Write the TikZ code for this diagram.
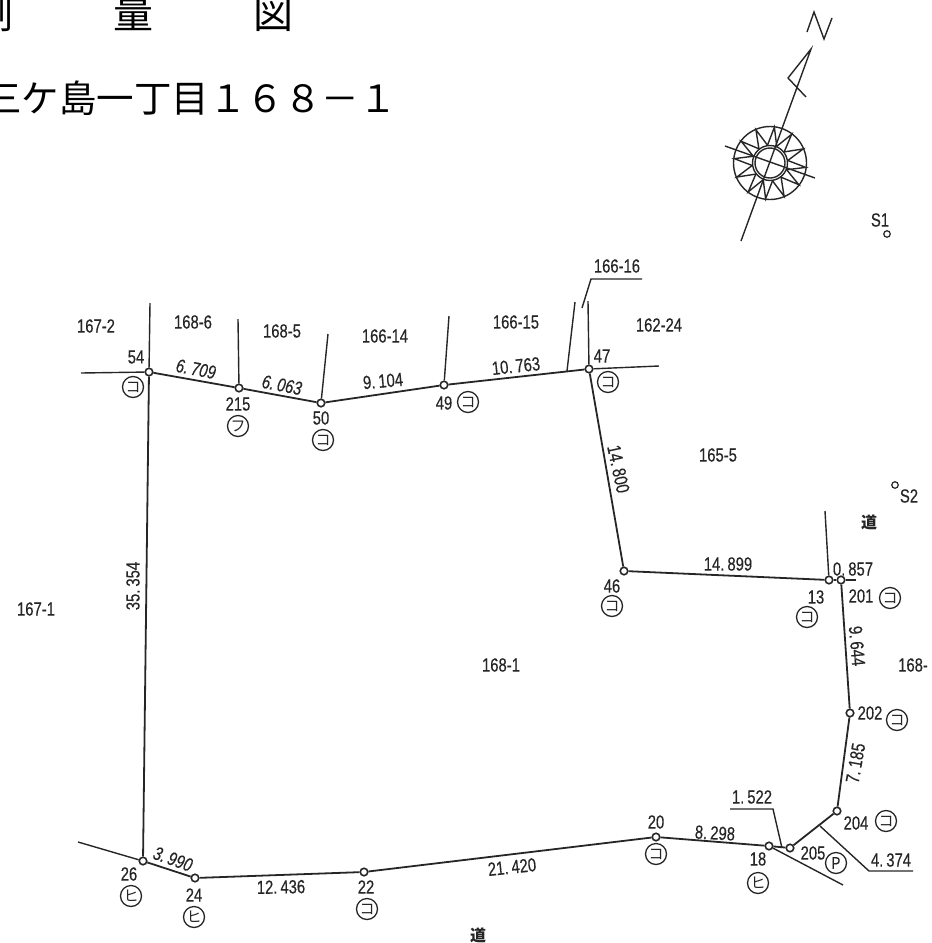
\documentclass[tikz,border=0pt]{standalone}
\usetikzlibrary{calc}
\usepackage{fontspec}
\setmainfont{Liberation Sans}
\newfontfamily\lab[FakeStretch=0.78,FakeBold=0.35,WordSpace=0.4]{Liberation Sans}
\newfontfamily\cjk{Noto Sans CJK JP}
\definecolor{ink}{HTML}{262626}
\tikzset{
  x=1pt,y=-1pt,
  lbl/.style={inner sep=0pt,text=ink,font=\lab\fontsize{19}{20}\selectfont},
  ital/.style={inner sep=0pt,text=ink,font=\lab\fontsize{19}{20}\selectfont\itshape},
  road/.style={inner sep=0pt,text=ink,font=\cjk\bfseries\fontsize{16}{17}\selectfont},
  pt/.style={circle,draw=ink,line width=1.6pt,fill=white,inner sep=0pt,minimum size=7.5pt},
  smallpt/.style={circle,draw=ink,line width=1.2pt,fill=white,inner sep=0pt,minimum size=6.5pt},
  mk/.style={circle,draw=ink,line width=1.3pt,inner sep=0pt,minimum size=21pt,text=ink,font=\cjk\fontsize{15}{15}\selectfont},
  ln/.style={draw=ink,line width=1.4pt},
  bound/.style={draw=ink,line width=1.8pt},
  title/.style={inner sep=0pt,anchor=west,text=black,font=\cjk\fontsize{40}{42}\selectfont},
  subtitle/.style={inner sep=0pt,anchor=west,text=black,font=\cjk\fontsize{37.5}{40}\selectfont},
}
\begin{document}
\begin{tikzpicture}
\useasboundingbox (0,0) rectangle (932,943);
\clip (0,0) rectangle (932,943);
% titles
\node[title] (t1) at (-27,13) {測\hspace{100pt}量\hspace{100pt}図};
\node[subtitle] (t2) at (-16,98) {三ケ島一丁目１６８－１};
% compass
\begin{scope}[draw=ink,line width=1.4pt]
\coordinate (cc) at (770,163);
\draw (cc) circle (36.5);
\draw (cc) circle (17.5);
\draw (cc) circle (15);
\foreach \i in {0,...,11}{
  \pgfmathsetmacro\a{\i*30-8}
  \pgfmathsetmacro\b{\a+15}
  \pgfmathsetmacro\c{\a+30}
  \draw ($(cc)+(\a:18)$) -- ($(cc)+(\b:36)$) -- ($(cc)+(\c:18)$);
}
\coordinate (ntip) at (811,49);
\coordinate (nend) at (741,241);
\coordinate (nb1) at (788,78);
\coordinate (nb2) at (806,97);
\coordinate (c1) at (725,146);
\coordinate (c2) at (815,178);
\draw (nend) -- (ntip) -- (nb1) -- (nb2);
\draw (c1) -- (c2);
\coordinate (n1) at (807,32);
\coordinate (n2) at (814,12);
\coordinate (n3) at (824,39);
\coordinate (n4) at (832,18);
\draw (n1) -- (n2) -- (n3) -- (n4);
\end{scope}
% points
\node[pt] (p54) at (149,372) {};
\node[pt] (p215) at (239,388) {};
\node[pt] (p50) at (321,403) {};
\node[pt] (p49) at (444,385) {};
\node[pt] (p47) at (589,369) {};
\node[pt] (p46) at (624,571) {};
\node[pt] (p13) at (829,580) {};
\node[pt] (p201) at (841,580) {};
\node[pt] (p202) at (850,713) {};
\node[pt] (p204) at (837,811) {};
\node[pt] (p205) at (790,848) {};
\node[pt] (p18) at (769,846) {};
\node[pt] (p20) at (656,837) {};
\node[pt] (p22) at (364,872) {};
\node[pt] (p24) at (195,878) {};
\node[pt] (p26) at (143,861) {};
\node[smallpt] (s1) at (887,234) {};
\node[smallpt] (s2) at (895,485) {};
% free ends
\coordinate (e54u) at (150,303);
\coordinate (e54l) at (81,373);
\coordinate (e215) at (238,319);
\coordinate (e50) at (328,334);
\coordinate (e49) at (449,316);
\coordinate (f1a) at (567,371);
\coordinate (f1b) at (575,302);
\coordinate (e47u) at (588,301);
\coordinate (e47r) at (659,366);
\coordinate (l1a) at (582,308);
\coordinate (l1b) at (591,279);
\coordinate (l1c) at (642,279);
\coordinate (e13) at (825,511);
\coordinate (e201) at (856,580);
\coordinate (e26) at (78,842);
\coordinate (e18) at (843,885);
\coordinate (l2a) at (730,809);
\coordinate (l2b) at (773,809);
\coordinate (l2c) at (782,848);
\coordinate (br) at (820,826);
\coordinate (l3a) at (869,871);
\coordinate (l3b) at (913,871);
% boundary
\draw[bound] (p54) -- (p215);
\draw[bound] (p215) -- (p50);
\draw[bound] (p50) -- (p49);
\draw[bound] (p49) -- (p47);
\draw[bound] (p47) -- (p46);
\draw[bound] (p46) -- (p13);
\draw[bound] (p13) -- (p201);
\draw[bound] (p201) -- (p202);
\draw[bound] (p202) -- (p204);
\draw[bound] (p204) -- (p205);
\draw[bound] (p205) -- (p18);
\draw[bound] (p18) -- (p20);
\draw[bound] (p20) -- (p22);
\draw[bound] (p22) -- (p24);
\draw[bound] (p24) -- (p26);
\draw[bound] (p26) -- (p54);
\draw[ln] (p54) -- (e54u);
\draw[ln] (p54) -- (e54l);
\draw[ln] (p215) -- (e215);
\draw[ln] (p50) -- (e50);
\draw[ln] (p49) -- (e49);
\draw[ln] (f1a) -- (f1b);
\draw[ln] (p47) -- (e47u);
\draw[ln] (p47) -- (e47r);
\draw[ln] (l1a) -- (l1b) -- (l1c);
\draw[ln] (p13) -- (e13);
\draw[ln] (p201) -- (e201);
\draw[ln] (p26) -- (e26);
\draw[ln] (p18) -- (e18);
\draw[ln] (l2a) -- (l2b) -- (l2c);
\draw[ln] (br) -- (l3a) -- (l3b);
% parcel labels
\node[lbl] (a1) at (96,326) {167-2};
\node[lbl] (a2) at (193,322) {168-6};
\node[lbl] (a3) at (282,331) {168-5};
\node[lbl] (a4) at (385,336) {166-14};
\node[lbl] (a5) at (516,322) {166-15};
\node[lbl] (a6) at (617,266) {166-16};
\node[lbl] (a7) at (659,325) {162-24};
\node[lbl] (a8) at (718,455) {165-5};
\node[lbl] (a9) at (501,665) {168-1};
\node[lbl] (a10) at (36,609) {167-1};
\node[lbl,anchor=west] (a11) at (898,665) {168-};
\node[road] (d1) at (869,522) {道};
\node[road] (d2) at (478,935) {道};
\node[lbl] (ls1) at (880,220) {S1};
\node[lbl] (ls2) at (909,496) {S2};
% distances
\node[lbl,rotate=90] (m1) at (133,586) {35. 354};
\node[lbl,rotate=-78] (m2) at (618.5,469) {14. 800};
\node[lbl,rotate=-85] (m3) at (857,646) {9. 644};
\node[lbl,rotate=80] (m4) at (855.5,763) {7. 185};
\node[ital,rotate=-11] (m5) at (196,369) {6. 709};
\node[ital,rotate=-11] (m6) at (282,385) {6. 063};
\node[lbl,rotate=5] (m7) at (383,381) {9. 104};
\node[lbl,rotate=6] (m8) at (516,366) {10. 763};
\node[ital,rotate=-20] (m9) at (173,859) {3. 990};
\node[lbl,rotate=1] (m10) at (281,887) {12. 436};
\node[lbl,rotate=6] (m11) at (512,867) {21. 420};
\node[lbl,rotate=-3] (m12) at (715,833) {8. 298};
\node[lbl] (m13) at (728,564) {14. 899};
\node[lbl] (m14) at (853,569) {0. 857};
\node[lbl] (m15) at (752,797) {1. 522};
\node[lbl] (m16) at (891,860) {4. 374};
% point numbers
\node[lbl] (n54) at (136,357) {54};
\node[lbl] (n215) at (238,404) {215};
\node[lbl] (n50) at (321,418) {50};
\node[lbl] (n49) at (444,403) {49};
\node[lbl] (n47) at (602,356) {47};
\node[lbl] (n46) at (612,586) {46};
\node[lbl] (n13) at (816,597) {13};
\node[lbl] (n201) at (861,596) {201};
\node[lbl] (n202) at (870,713) {202};
\node[lbl] (n204) at (856,823) {204};
\node[lbl] (n205) at (813,853) {205};
\node[lbl] (n18) at (758,859) {18};
\node[lbl] (n20) at (656,822) {20};
\node[lbl] (n22) at (366,887) {22};
\node[lbl] (n24) at (194,895) {24};
\node[lbl] (n26) at (129,874) {26};
% markers
\node[mk] (k54) at (133,387) {コ};
\node[mk] (k215) at (238,426) {フ};
\node[mk] (k50) at (323,440) {コ};
\node[mk] (k49) at (468,402) {コ};
\node[mk] (k47) at (608,382) {コ};
\node[mk] (k46) at (612,606) {コ};
\node[mk] (k13) at (807,617) {コ};
\node[mk] (k201) at (890,598) {コ};
\node[mk] (k202) at (897,720) {コ};
\node[mk] (k204) at (886,821) {コ};
\node[mk,font=\lab\fontsize{17}{17}\selectfont] (k205) at (836,863) {P};
\node[mk] (k18) at (758,883) {ヒ};
\node[mk] (k20) at (656,854) {コ};
\node[mk] (k22) at (367,909) {コ};
\node[mk] (k24) at (194,917) {ヒ};
\node[mk] (k26) at (131,896) {ヒ};
\end{tikzpicture}
\end{document}
